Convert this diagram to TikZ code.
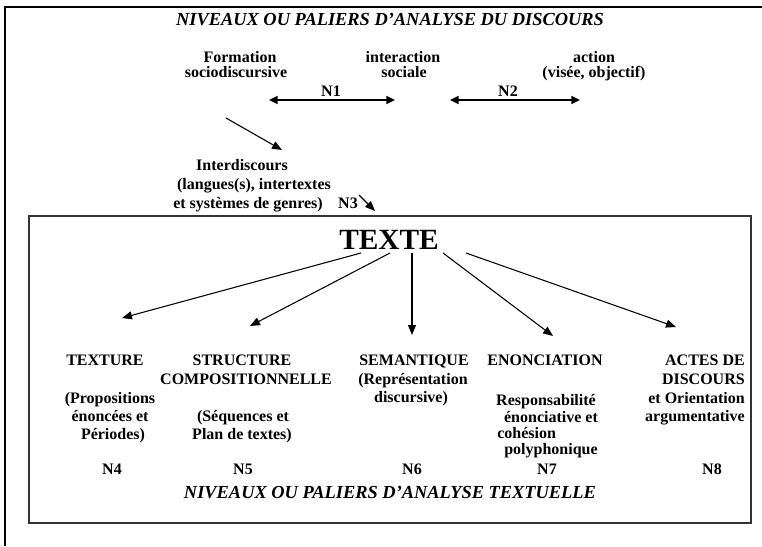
\documentclass[tikz,border=0pt]{standalone}
\usepackage{fontspec}
\setmainfont{Liberation Serif}
\usetikzlibrary{arrows.meta}
\begin{document}
\begin{tikzpicture}[x=0.75pt,y=-0.75pt,
  ln/.style={font=\fontsize{12}{13.8}\selectfont\bfseries, inner sep=0pt, anchor=base},
  ttl/.style={font=\fontsize{13.8}{16}\selectfont\bfseries\itshape, inner sep=0pt},
  big/.style={font=\fontsize{22}{24}\selectfont\bfseries, inner sep=0pt},
  thinarr/.style={-{Triangle[length=7.5pt,width=6pt]}, line width=0.8pt},
  dblarr/.style={{Triangle[length=6.5pt,width=6pt]}-{Triangle[length=6.5pt,width=6pt]}, line width=1.5pt},
  frameline/.style={line width=1pt},
  boxline/.style={line width=1.3pt, draw=black!80}
]
\useasboundingbox (0,0) rectangle (762,546);
% outer frame
\coordinate (fa) at (762,7);
\coordinate (fb) at (5,7);
\coordinate (fc) at (5,546);
\draw[frameline] (fa) -- (fb) -- (fc);
% inner box
\coordinate (bx1) at (29,216);
\coordinate (bx2) at (751,523);
\draw[boxline] (bx1) rectangle (bx2);

% titles
\node[ttl] (t1) at (390,20) {NIVEAUX OU PALIERS D’ANALYSE DU DISCOURS};
\node[ttl] (t2) at (390,493) {NIVEAUX OU PALIERS D’ANALYSE TEXTUELLE};

% top labels (one node per line, on baselines)
\node[ln] (form1) at (240,62) {Formation};
\node[ln] (form2) at (236,77) {sociodiscursive};
\node[ln] (inter1) at (403,62) {interaction};
\node[ln] (inter2) at (404,77) {sociale};
\node[ln] (act1) at (594,62) {action};
\node[ln] (act2) at (594,77) {(visée, objectif)};

% N1, N2
\coordinate (n1a) at (269,100);
\coordinate (n1b) at (395,100);
\coordinate (n2a) at (450,100);
\coordinate (n2b) at (580,100);
\draw[dblarr] (n1a) -- (n1b);
\draw[dblarr] (n2a) -- (n2b);
\node[ln] (n1) at (331,96) {N1};
\node[ln] (n2) at (508,96) {N2};

% diagonal arrow
\coordinate (dga) at (226,118);
\coordinate (dgb) at (282,150);
\draw[thinarr] (dga) -- (dgb);

% interdiscours
\node[ln] (id1) at (242,170) {Interdiscours};
\node[ln] (id2) at (254,189) {(langues(s), intertextes};
\node[ln] (id3) at (248,208) {et systèmes de genres)};
\node[ln] (n3) at (348,208) {N3};
\coordinate (n3a) at (359,195);
\coordinate (n3b) at (375,211);
\draw[thinarr] (n3a) -- (n3b);

% TEXTE
\node[big] (texte) at (389,240) {TEXTE};
\coordinate (s1) at (361,253);
\coordinate (s2) at (390,253);
\coordinate (s3) at (412,253);
\coordinate (s4) at (443,253);
\coordinate (s5) at (466,253);
\coordinate (e1) at (122,318);
\coordinate (e2) at (250,326);
\coordinate (e3) at (412,335);
\coordinate (e4) at (553,336);
\coordinate (e5) at (676,327);
\draw[thinarr] (s1) -- (e1);
\draw[thinarr] (s2) -- (e2);
\draw[thinarr] (s3) -- (e3);
\draw[thinarr] (s4) -- (e4);
\draw[thinarr] (s5) -- (e5);

% column 1
\node[ln] (c1a) at (105,365) {TEXTURE};
\node[ln] (c1b) at (110,403) {(Propositions};
\node[ln] (c1c) at (110,421) {énoncées et};
\node[ln] (c1d) at (113,439) {Périodes)};
% column 2
\node[ln] (c2a) at (242,365) {STRUCTURE};
\node[ln] (c2b) at (246,384) {COMPOSITIONNELLE};
\node[ln] (c2c) at (243,421) {(Séquences et};
\node[ln] (c2d) at (242,439) {Plan de textes)};
% column 3
\node[ln] (c3a) at (414,365) {SEMANTIQUE};
\node[ln] (c3b) at (413,384) {(Représentation};
\node[ln] (c3c) at (411,402) {discursive)};
% column 4
\node[ln] (c4a) at (545,365) {ENONCIATION};
\node[ln] (c4b) at (546,405) {Responsabilité};
\node[ln] (c4c) at (551,422) {énonciative et};
\node[ln, anchor=base west] (c4d) at (497,438) {cohésion};
\node[ln] (c4e) at (551,454) {polyphonique};
% column 5
\node[ln, anchor=base east] (c5a) at (745,365) {ACTES DE};
\node[ln, anchor=base east] (c5b) at (745,384) {DISCOURS};
\node[ln, anchor=base east] (c5c) at (745,403) {et Orientation};
\node[ln, anchor=base east] (c5d) at (745,421) {argumentative};

% level numbers
\node[ln] (n4) at (112,474) {N4};
\node[ln] (n5) at (243,474) {N5};
\node[ln] (n6) at (412,474) {N6};
\node[ln] (n7) at (547,474) {N7};
\node[ln] (n8) at (712,474) {N8};
\end{tikzpicture}
\end{document}
